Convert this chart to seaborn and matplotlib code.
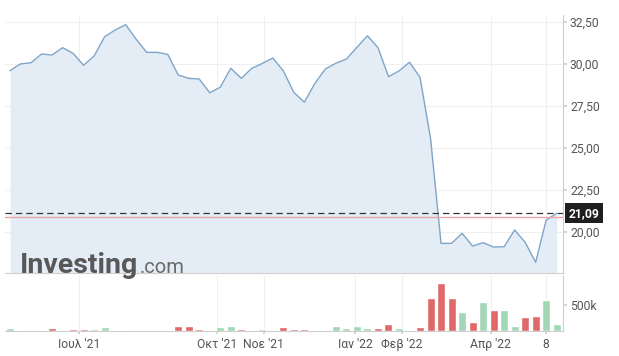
import numpy as np
import pandas as pd
import matplotlib
matplotlib.use("Agg")
import matplotlib.pyplot as plt
import matplotlib.transforms as mtransforms
from matplotlib.ticker import FixedLocator, FuncFormatter
import seaborn as sns

# ---------------- data ----------------
week_start = "2021-05-16"
prices = [29.60, 30.00, 30.07, 30.59, 30.53, 30.97, 30.63, 29.92, 30.47, 31.62,
          32.02, 32.34, 31.47, 30.69, 30.69, 30.57, 29.34, 29.14, 29.10, 28.28,
          28.61, 29.74, 29.14, 29.74, 30.03, 30.35, 29.58, 28.30, 27.72, 28.84,
          29.70, 30.04, 30.29, 30.99, 31.68, 30.97, 29.24, 29.58, 30.10, 29.20,
          25.57, 19.30, 19.30, 19.90, 19.14, 19.34, 19.08, 19.10, 20.10, 19.36,
          18.17, 20.69, 21.09]
volumes = [58e3, 15e3, 15e3, 15e3, 50e3, 22e3, 35e3, 35e3, 45e3, 70e3,
           22e3, 14e3, 28e3, 28e3, 28e3, 28e3, 92e3, 92e3, 48e3, 25e3,
           68e3, 92e3, 48e3, 25e3, 48e3, 22e3, 72e3, 48e3, 48e3, 28e3,
           28e3, 90e3, 50e3, 90e3, 60e3, 50e3, 130e3, 50e3, 28e3, 70e3,
           630e3, 920e3, 630e3, 365e3, 170e3, 550e3, 410e3, 400e3, 90e3, 265e3,
           285e3, 590e3, 130e3]
directions = ["up", "up", "up", "up", "down", "up", "down", "down", "up", "up",
              "up", "up", "down", "down", "down", "down", "down", "down", "down", "down",
              "up", "up", "down", "up", "up", "up", "down", "down", "down", "up",
              "up", "up", "up", "up", "up", "down", "down", "up", "up", "down",
              "down", "down", "down", "up", "down", "up", "down", "up", "up", "down",
              "down", "up", "up"]
last_price = 21.09
ref_line = 20.85
tick_dates = ["2021-07-01", "2021-10-01", "2021-11-01", "2022-01-01",
              "2022-02-01", "2022-04-01", "2022-05-08"]
tick_labels = ["Ιουλ '21", "Οκτ '21", "Νοε '21", "Ιαν '22", "Φεβ '22", "Απρ '22", "8"]
price_ticks = [20.0, 22.5, 25.0, 27.5, 30.0, 32.5]

# ---------------- style ----------------
sns.set_theme(style="white")
plt.rcParams["font.family"] = ["Roboto", "DejaVu Sans"]
plt.rcParams["lines.scale_dashes"] = False

W, H = 619, 356
dates = pd.date_range(week_start, periods=len(prices), freq="7D")
t0 = dates[0]
xk = np.asarray((dates - t0).days, dtype=float) / 7.0
df = pd.DataFrame({"x": xk, "price": prices, "vol": volumes, "dir": directions})
tick_pos = [(pd.Timestamp(d) - t0).days / 7.0 for d in tick_dates]

fig = plt.figure(figsize=(W / 100, H / 100), dpi=100)
fig.patch.set_facecolor("white")
ax = fig.add_axes([5 / W, 1 - 273 / H, (563 - 5) / W, (273 - 15) / H])
axv = fig.add_axes([5 / W, 1 - 331 / H, (563 - 5) / W, (331 - 276) / H], sharex=ax)

xlim = (-0.476, 52.6)
ylim = (17.533, 32.917)

grid_c = "#efefef"
spine_c = "#cfcfcf"
text_c = "#555555"

# gridlines
for a in (ax, axv):
    for p in tick_pos:
        a.axvline(p, color=grid_c, lw=0.8, zorder=0)
for v in price_ticks:
    ax.axhline(v, color=grid_c, lw=0.8, zorder=0)

# price area
ax.fill_between(df["x"], df["price"], ylim[0], color="#e4edf6", lw=0, zorder=1)
sns.lineplot(data=df, x="x", y="price", ax=ax, color="#7ea5c8", lw=1.0, zorder=2)

ax.axhline(ref_line, color="#eba3aa", lw=1.0, zorder=3)
ax.axhline(last_price, color="#333333", lw=0.9, ls=(0, (4.6, 2.9)), zorder=4)

# volume bars
sns.barplot(data=df, x="x", y="vol", hue="dir", ax=axv, native_scale=True,
            palette={"up": "#a2d6b6", "down": "#e06868"}, dodge=False,
            width=0.76, saturation=1, legend=False, zorder=2)

# axes setup
for a in (ax, axv):
    a.set_xlim(*xlim)
    a.set_xlabel("")
    a.set_ylabel("")
    a.set_facecolor("white")
    for s in ("top", "left"):
        a.spines[s].set_visible(False)
    for s in ("bottom", "right"):
        a.spines[s].set_color(spine_c)
        a.spines[s].set_linewidth(0.8)
    a.yaxis.tick_right()
    a.tick_params(axis="y", which="both", right=True, left=False, length=3,
                  color=spine_c, labelcolor=text_c, labelsize=8.7, pad=2)

ax.set_ylim(*ylim)
ax.yaxis.set_major_locator(FixedLocator(price_ticks))
ax.yaxis.set_major_formatter(FuncFormatter(lambda v, p: f"{v:.2f}".replace(".", ",")))
ax.tick_params(axis="x", bottom=False, labelbottom=False)

axv.set_ylim(0, 1.06e6)
axv.yaxis.set_major_locator(FixedLocator([5e5]))
axv.yaxis.set_major_formatter(FuncFormatter(lambda v, p: "500k"))
axv.xaxis.set_major_locator(FixedLocator(tick_pos))
axv.set_xticklabels(tick_labels)
axv.tick_params(axis="x", bottom=True, length=2, color=spine_c,
                labelcolor=text_c, labelsize=8.7, pad=3)

# last price tag
trans = mtransforms.blended_transform_factory(ax.transAxes, ax.transData)
ax.annotate(f"{last_price:.2f}".replace(".", ","), xy=(1.0, last_price),
            xycoords=trans, xytext=(4, 0), textcoords="offset points",
            ha="left", va="center", color="white", fontsize=8.7,
            fontweight="bold", annotation_clip=False, zorder=10,
            bbox=dict(boxstyle="square,pad=0.3", fc="#1e1e1e", ec="none"))

# watermark
t1 = fig.text(20 / W, 1 - 273 / H, "Investing", fontsize=20.5, fontweight="bold",
              color="#585858", ha="left", va="baseline", zorder=20)
fig.canvas.draw()
bb = t1.get_window_extent(renderer=fig.canvas.get_renderer())
fig.text(bb.x1 / W + 1 / W, 1 - 273 / H, ".com", fontsize=14.5, color="#6a6a6a",
         ha="left", va="baseline", zorder=20)

fig.savefig("out.png", dpi=100, facecolor="white")
